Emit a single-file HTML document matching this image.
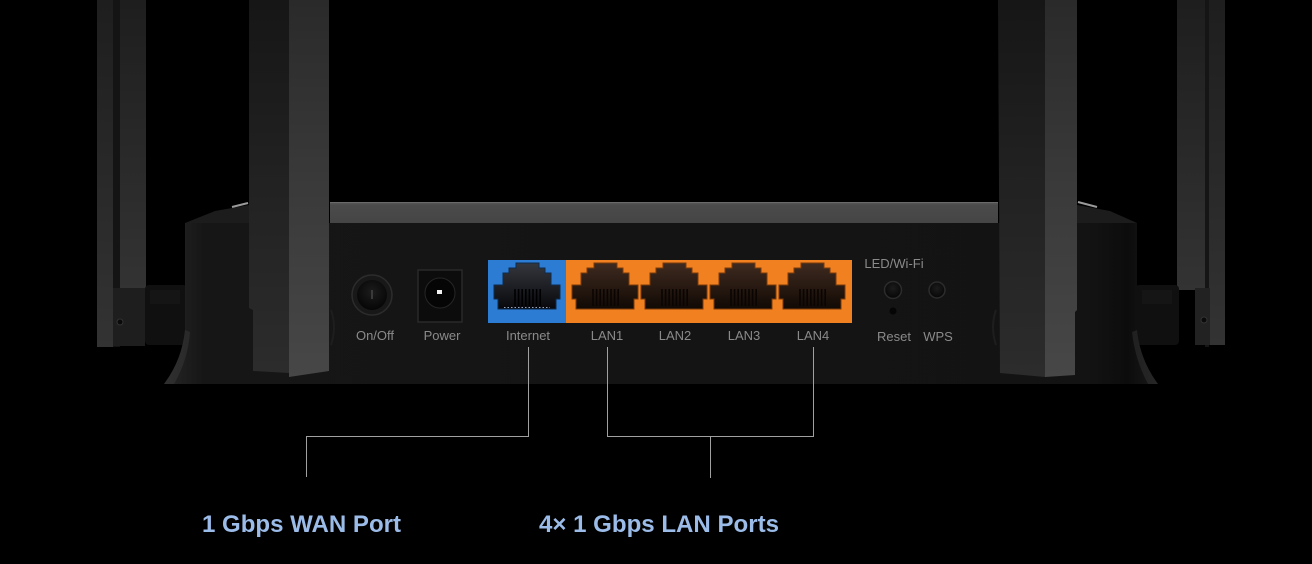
<!DOCTYPE html>
<html>
<head>
<meta charset="utf-8">
<style>
html,body{margin:0;padding:0;background:#000;}
body{width:1312px;height:564px;overflow:hidden;}
svg{display:block;}
</style>
</head>
<body>
<svg width="1312" height="564" viewBox="0 0 1312 564" xmlns="http://www.w3.org/2000/svg">
<defs>
  <linearGradient id="antL" x1="0" y1="0" x2="0" y2="1">
    <stop offset="0" stop-color="#161616"/>
    <stop offset="0.5" stop-color="#222"/>
    <stop offset="1" stop-color="#2c2c2c"/>
  </linearGradient>
  <linearGradient id="antR" x1="0" y1="0" x2="0" y2="1">
    <stop offset="0" stop-color="#2a2a2a"/>
    <stop offset="0.5" stop-color="#3a3a3a"/>
    <stop offset="1" stop-color="#474747"/>
  </linearGradient>
  <linearGradient id="antO" x1="0" y1="0" x2="0" y2="1">
    <stop offset="0" stop-color="#1e1e1e"/>
    <stop offset="1" stop-color="#333"/>
  </linearGradient>
  <linearGradient id="body" x1="0" y1="0" x2="1" y2="0">
    <stop offset="0" stop-color="#262626"/>
    <stop offset="0.04" stop-color="#161616"/>
    <stop offset="0.5" stop-color="#141414"/>
    <stop offset="0.93" stop-color="#131313"/>
    <stop offset="0.97" stop-color="#0c0c0c"/>
    <stop offset="1" stop-color="#1a1a1a"/>
  </linearGradient>
  <linearGradient id="holeB" x1="0" y1="0" x2="0" y2="1">
    <stop offset="0" stop-color="#34373d"/>
    <stop offset="1" stop-color="#08080c"/>
  </linearGradient>
  <linearGradient id="holeO" x1="0" y1="0" x2="0" y2="1">
    <stop offset="0" stop-color="#3e2a20"/>
    <stop offset="0.6" stop-color="#24170f"/>
    <stop offset="1" stop-color="#100905"/>
  </linearGradient>
  <radialGradient id="btn" cx="0.5" cy="0.4" r="0.6">
    <stop offset="0" stop-color="#1c1c1c"/>
    <stop offset="1" stop-color="#060606"/>
  </radialGradient>
  <linearGradient id="topPanel" x1="0" y1="0" x2="0" y2="1">
    <stop offset="0" stop-color="#5a5a5a"/>
    <stop offset="0.15" stop-color="#4b4b4b"/>
    <stop offset="1" stop-color="#454545"/>
  </linearGradient>
</defs>

<rect width="1312" height="564" fill="#000"/>

<!-- outer antennas -->
<g>
  <rect x="97" y="0" width="16" height="347" fill="url(#antO)"/>
  <rect x="113" y="0" width="7" height="347" fill="#141414"/>
  <rect x="120" y="0" width="26" height="290" fill="url(#antO)"/>
  <rect x="113" y="288" width="32" height="58" fill="#1e1e1e"/>
  <circle cx="120" cy="322" r="3" fill="#0a0a0a" stroke="#333" stroke-width="1"/>
  <rect x="1177" y="0" width="28" height="290" fill="url(#antO)"/>
  <rect x="1205" y="0" width="4" height="347" fill="#151515"/>
  <rect x="1209" y="0" width="16" height="345" fill="url(#antO)"/>
  <rect x="1195" y="288" width="15" height="57" fill="#222"/>
  <circle cx="1204" cy="320" r="3" fill="#0a0a0a" stroke="#333" stroke-width="1"/>
</g>

<!-- side hinges -->
<rect x="145" y="285" width="42" height="60" rx="4" fill="#101010"/>
<rect x="150" y="290" width="30" height="14" fill="#151515"/>
<rect x="1135" y="285" width="44" height="60" rx="4" fill="#101010"/>
<rect x="1142" y="290" width="30" height="14" fill="#151515"/>

<!-- top slanted pieces -->
<polygon points="185,223 215,211 249,205 249,223" fill="#1c1c1c"/>
<line x1="232" y1="207" x2="248" y2="203" stroke="#9a9a9a" stroke-width="2"/>
<polygon points="1077,205 1110,211 1137,223 1077,223" fill="#1c1c1c"/>
<line x1="1078" y1="202" x2="1097" y2="207" stroke="#9a9a9a" stroke-width="2"/>

<!-- top panel -->
<rect x="330" y="202" width="668" height="21" fill="url(#topPanel)"/>
<line x1="330" y1="202.5" x2="998" y2="202.5" stroke="#6a6a6a" stroke-width="1"/>

<!-- body -->
<path d="M185,223 L1137,223 L1137,330 Q1140,360 1158,384 L164,384 Q182,360 185,330 Z" fill="url(#body)"/>
<path d="M185,330 Q182,360 164,384 L174,384 Q188,360 190,332 Z" fill="#3c3c3c" opacity="0.45"/>
<path d="M1137,330 Q1140,360 1158,384 L1148,384 Q1135,360 1132,332 Z" fill="#3c3c3c" opacity="0.4"/>

<!-- inner antennas -->
<g>
  <path d="M249,0 H289 V373 L253,371 V310 L249,308 Z" fill="url(#antL)"/>
  <path d="M289,0 H329 V371 L289,377 Z" fill="url(#antR)"/>
  <path d="M998,0 H1045 V377 L1000,373 Z" fill="url(#antL)"/>
  <path d="M1045,0 H1077 V310 L1075,312 V375 L1045,377 Z" fill="url(#antR)"/>
  <path d="M331,310 Q337,327 331,345" stroke="#1e1e1e" stroke-width="2" fill="none"/>
  <path d="M996,310 Q990,327 996,345" stroke="#1e1e1e" stroke-width="2" fill="none"/>
</g>

<!-- On/Off button -->
<circle cx="372" cy="295" r="20" fill="#181818" stroke="#2c2c2c" stroke-width="1.5"/>
<circle cx="372" cy="295" r="15" fill="url(#btn)"/>
<rect x="371" y="290" width="2" height="9" fill="#3a3a3a"/>

<!-- Power jack -->
<rect x="418" y="270" width="44" height="52" fill="#0c0c0c" stroke="#2a2a2a" stroke-width="1.5"/>
<circle cx="440" cy="293" r="15" fill="#050505" stroke="#262626" stroke-width="1"/>
<rect x="437" y="290" width="5" height="4" fill="#f2f2f2"/>

<!-- port blocks -->
<rect x="488" y="260" width="78" height="63" fill="#2c7cd3"/>
<rect x="566" y="260" width="286" height="63" fill="#f18020"/>

<!-- ports -->
<g>
  <g transform="translate(494,263)">
    <path d="M22,0 H45 V5 H51 V10 H57 V22 H66 V36 H62 V46 H4 V36 H0 V22 H9 V10 H15 V5 H22 Z" fill="url(#holeB)" stroke="#0e2a4a" stroke-width="1"/>
    <g stroke="#000" stroke-width="1.6">
      <line x1="21" y1="26" x2="21" y2="43"/><line x1="24.6" y1="26" x2="24.6" y2="43"/>
      <line x1="28.2" y1="26" x2="28.2" y2="43"/><line x1="31.8" y1="26" x2="31.8" y2="43"/>
      <line x1="35.4" y1="26" x2="35.4" y2="43"/><line x1="39" y1="26" x2="39" y2="43"/>
      <line x1="42.6" y1="26" x2="42.6" y2="43"/><line x1="46.2" y1="26" x2="46.2" y2="43"/>
    </g>
    <line x1="10" y1="44.5" x2="56" y2="44.5" stroke="#9aa8c0" stroke-width="1" stroke-dasharray="1.5 2"/>
  </g>
  <g transform="translate(572,263)">
    <path d="M22,0 H45 V5 H51 V10 H57 V22 H66 V36 H62 V46 H4 V36 H0 V22 H9 V10 H15 V5 H22 Z" fill="url(#holeO)" stroke="#7a3a0a" stroke-width="1"/>
    <g stroke="#0a0503" stroke-width="1.6">
      <line x1="21" y1="26" x2="21" y2="43"/><line x1="24.6" y1="26" x2="24.6" y2="43"/>
      <line x1="28.2" y1="26" x2="28.2" y2="43"/><line x1="31.8" y1="26" x2="31.8" y2="43"/>
      <line x1="35.4" y1="26" x2="35.4" y2="43"/><line x1="39" y1="26" x2="39" y2="43"/>
      <line x1="42.6" y1="26" x2="42.6" y2="43"/><line x1="46.2" y1="26" x2="46.2" y2="43"/>
    </g>
  </g>
  <g transform="translate(641,263)">
    <path d="M22,0 H45 V5 H51 V10 H57 V22 H66 V36 H62 V46 H4 V36 H0 V22 H9 V10 H15 V5 H22 Z" fill="url(#holeO)" stroke="#7a3a0a" stroke-width="1"/>
    <g stroke="#0a0503" stroke-width="1.6">
      <line x1="21" y1="26" x2="21" y2="43"/><line x1="24.6" y1="26" x2="24.6" y2="43"/>
      <line x1="28.2" y1="26" x2="28.2" y2="43"/><line x1="31.8" y1="26" x2="31.8" y2="43"/>
      <line x1="35.4" y1="26" x2="35.4" y2="43"/><line x1="39" y1="26" x2="39" y2="43"/>
      <line x1="42.6" y1="26" x2="42.6" y2="43"/><line x1="46.2" y1="26" x2="46.2" y2="43"/>
    </g>
  </g>
  <g transform="translate(710,263)">
    <path d="M22,0 H45 V5 H51 V10 H57 V22 H66 V36 H62 V46 H4 V36 H0 V22 H9 V10 H15 V5 H22 Z" fill="url(#holeO)" stroke="#7a3a0a" stroke-width="1"/>
    <g stroke="#0a0503" stroke-width="1.6">
      <line x1="21" y1="26" x2="21" y2="43"/><line x1="24.6" y1="26" x2="24.6" y2="43"/>
      <line x1="28.2" y1="26" x2="28.2" y2="43"/><line x1="31.8" y1="26" x2="31.8" y2="43"/>
      <line x1="35.4" y1="26" x2="35.4" y2="43"/><line x1="39" y1="26" x2="39" y2="43"/>
      <line x1="42.6" y1="26" x2="42.6" y2="43"/><line x1="46.2" y1="26" x2="46.2" y2="43"/>
    </g>
  </g>
  <g transform="translate(779,263)">
    <path d="M22,0 H45 V5 H51 V10 H57 V22 H66 V36 H62 V46 H4 V36 H0 V22 H9 V10 H15 V5 H22 Z" fill="url(#holeO)" stroke="#7a3a0a" stroke-width="1"/>
    <g stroke="#0a0503" stroke-width="1.6">
      <line x1="21" y1="26" x2="21" y2="43"/><line x1="24.6" y1="26" x2="24.6" y2="43"/>
      <line x1="28.2" y1="26" x2="28.2" y2="43"/><line x1="31.8" y1="26" x2="31.8" y2="43"/>
      <line x1="35.4" y1="26" x2="35.4" y2="43"/><line x1="39" y1="26" x2="39" y2="43"/>
      <line x1="42.6" y1="26" x2="42.6" y2="43"/><line x1="46.2" y1="26" x2="46.2" y2="43"/>
    </g>
  </g>
</g>

<!-- Reset / WPS -->
<circle cx="893" cy="290" r="8.5" fill="url(#btn)" stroke="#2c2c2c" stroke-width="1.5"/>
<circle cx="893" cy="311" r="3.5" fill="#050505"/>
<circle cx="937" cy="290" r="8" fill="url(#btn)" stroke="#2c2c2c" stroke-width="1.5"/>

<!-- small labels -->
<g font-family="'Liberation Sans', sans-serif" font-size="13" fill="#8a8a8a" text-anchor="middle">
  <text x="375" y="340">On/Off</text>
  <text x="442" y="340">Power</text>
  <text x="528" y="340">Internet</text>
  <text x="607" y="340">LAN1</text>
  <text x="675" y="340">LAN2</text>
  <text x="744" y="340">LAN3</text>
  <text x="813" y="340">LAN4</text>
  <text x="894" y="341">Reset</text>
  <text x="938" y="341">WPS</text>
  <text x="894" y="268">LED/Wi-Fi</text>
</g>

<!-- connector lines -->
<g stroke="#a0a0a0" stroke-width="1" fill="none">
  <polyline points="528.5,347 528.5,436.5 306.5,436.5 306.5,477"/>
  <polyline points="607.5,347 607.5,436.5 813.5,436.5 813.5,347"/>
  <line x1="710.5" y1="436.5" x2="710.5" y2="478"/>
</g>

<!-- big labels -->
<g font-family="'Liberation Sans', sans-serif" font-size="24" font-weight="bold" fill="#9bbbe8">
  <text x="202" y="532" textLength="199" lengthAdjust="spacingAndGlyphs">1 Gbps WAN Port</text>
  <text x="539" y="532" textLength="240" lengthAdjust="spacingAndGlyphs">4× 1 Gbps LAN Ports</text>
</g>
</svg>
</body>
</html>
